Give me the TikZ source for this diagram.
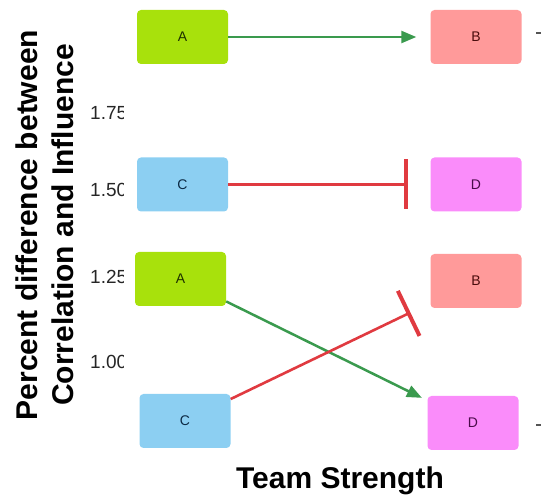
\documentclass[tikz,border=0pt]{standalone}
\usepackage{fontspec}
\setmainfont{Liberation Sans}
\usetikzlibrary{arrows.meta}

\definecolor{fillA}{HTML}{A8E10C}
\definecolor{fillB}{HTML}{FF9A9A}
\definecolor{fillC}{HTML}{8CCFF2}
\definecolor{fillD}{HTML}{FA8CFA}
\definecolor{textA}{HTML}{1E3200}
\definecolor{textB}{HTML}{4A0C0C}
\definecolor{textC}{HTML}{0C2A44}
\definecolor{textD}{HTML}{4A0C4A}
\definecolor{actgreen}{HTML}{3A9A4E}
\definecolor{inhred}{HTML}{E03A40}
\definecolor{tickgray}{HTML}{555555}

\tikzset{
  gene/.style={rounded corners=4pt, minimum width=91pt, minimum height=54pt,
    inner sep=0pt, font=\fontsize{14}{16}\selectfont},
  geneA/.style={gene, fill=fillA, text=textA},
  geneB/.style={gene, fill=fillB, text=textB},
  geneC/.style={gene, fill=fillC, text=textC},
  geneD/.style={gene, fill=fillD, text=textD},
  activates/.style={draw=actgreen, line width=2.5pt,
    -{Triangle[length=15pt, width=12pt]}, shorten >=14pt},
  inhibits/.style={draw=inhred, line width=2.6pt,
    -{Bar[width=50pt, line width=4pt]}, shorten >=22pt},
  ticklabel/.style={anchor=west, inner sep=0pt, text=black!85,
    font=\fontsize{19}{22}\selectfont},
  axislabel/.style={inner sep=0pt, font=\fontsize{30}{36}\selectfont\bfseries}
}

\begin{document}
\begin{tikzpicture}[x=1pt, y=-1pt]
\useasboundingbox (0,0) rectangle (542,497);

% y-axis tick labels, cut off where the plot area begins
\begin{scope}
  \clip (0,0) rectangle (123,497);
  \node[ticklabel] (t175) at (90,113) {1.75};
  \node[ticklabel] (t150) at (90,190) {1.50};
  \node[ticklabel] (t125) at (90,277) {1.25};
  \node[ticklabel] (t100) at (90,362) {1.00};
\end{scope}

% axis titles
\node[axislabel, rotate=90, align=center] (ylab) at (45,225)
  {Percent difference between\\Correlation and Influence};
\node[axislabel] (xlab) at (340,481) {Team Strength};

% small ticks on the right edge
\draw[tickgray, line width=1.4pt] (536,33) -- (541,33);
\draw[tickgray, line width=1.4pt] (536,425) -- (541,425);

% gene boxes
\node[geneA] (A1) at (182.5,37) {A};
\node[geneB] (B1) at (476,37) {B};
\node[geneC] (C1) at (182.5,184.5) {C};
\node[geneD] (D1) at (476,184.5) {D};
\node[geneA] (A2) at (180.5,279) {A};
\node[geneB] (B2) at (476,281) {B};
\node[geneC] (C2) at (185,421) {C};
\node[geneD] (D2) at (473,423) {D};

% interactions
\draw[activates] (A1) -- (B1);
\draw[inhibits] (C1) -- (D1);
\draw[activates, shorten >=6pt] (A2) -- (D2);
\draw[inhibits] (C2) -- (B2);
\end{tikzpicture}
\end{document}
